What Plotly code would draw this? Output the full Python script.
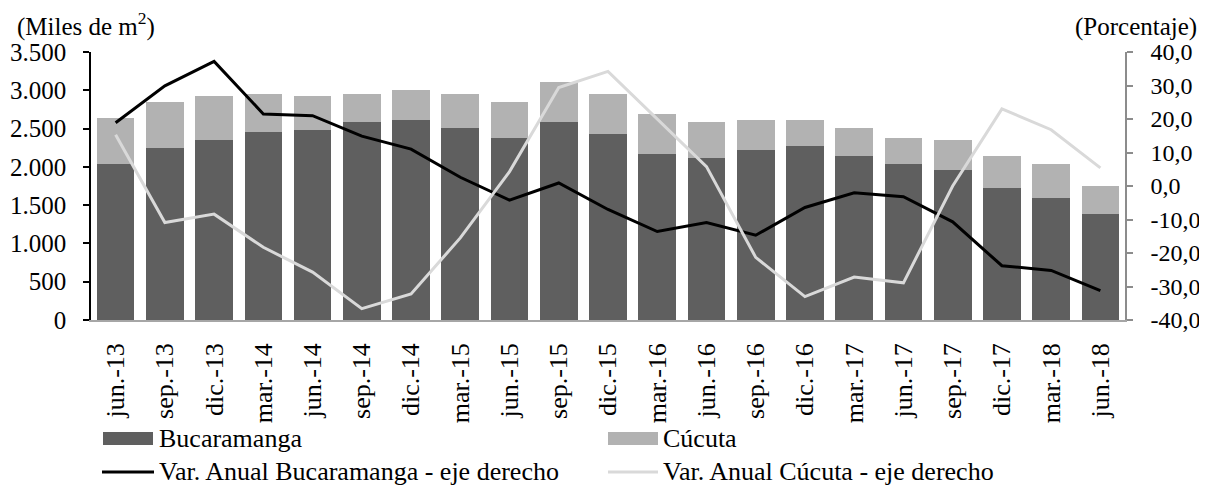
import plotly.graph_objects as go

categories = ["jun.-13", "sep.-13", "dic.-13", "mar.-14", "jun.-14", "sep.-14", "dic.-14",
              "mar.-15", "jun.-15", "sep.-15", "dic.-15", "mar.-16", "jun.-16", "sep.-16",
              "dic.-16", "mar.-17", "jun.-17", "sep.-17", "dic.-17", "mar.-18", "jun.-18"]

bucaramanga = [2040, 2250, 2355, 2460, 2486, 2590, 2616, 2510, 2381, 2588, 2431,
               2170, 2120, 2224, 2276, 2146, 2041, 1963, 1728, 1597, 1388]
cucuta = [598, 597, 570, 492, 439, 362, 388, 442, 466, 518, 521,
          520, 466, 388, 336, 361, 336, 388, 418, 444, 366]

var_bucaramanga = [18.9, 29.9, 37.2, 21.5, 21.0, 14.9, 11.0, 2.6, -4.2, 0.9, -7.0,
                   -13.6, -10.9, -14.7, -6.4, -2.0, -3.2, -10.7, -23.8, -25.2, -31.2]
var_cucuta = [15.3, -10.9, -8.4, -18.3, -25.7, -36.6, -32.2, -15.5, 4.3, 29.4, 34.2,
              20.0, 5.8, -21.3, -33.0, -27.2, -28.9, 0.0, 23.0, 16.8, 5.4]

left_tickvals = [0, 500, 1000, 1500, 2000, 2500, 3000, 3500]
left_ticktext = ["0", "500", "1.000", "1.500", "2.000", "2.500", "3.000", "3.500"]
right_tickvals = [-40, -30, -20, -10, 0, 10, 20, 30, 40]
right_ticktext = ["-40,0", "-30,0", "-20,0", "-10,0", "0,0", "10,0", "20,0", "30,0", "40,0"]

names = ["Bucaramanga", "Cúcuta", "Var. Anual Bucaramanga - eje derecho", "Var. Anual Cúcuta - eje derecho"]

C_BUC = "#5f5f5f"
C_CUC = "#b2b2b2"
C_LBUC = "#000000"
C_LCUC = "#d9d9d9"
FONT = "Liberation Serif"
FS_TICK = 25
FS_RTICK = 24
FS_X = 26
FS_TXT = 26
FS_HEAD = 25

W, H = 1207, 485
OFF = 8  # page body margin
L, R, T, B = 91, 1125, 52, 320  # plot area in page pixels


def px(x):
    return (x - L) / (R - L)


def py(y):
    return (B - y) / (B - T)


fig = go.Figure()
fig.add_trace(go.Bar(x=categories, y=bucaramanga, name=names[0], marker_color=C_BUC,
                     marker_line_width=0, showlegend=False))
fig.add_trace(go.Bar(x=categories, y=cucuta, name=names[1], marker_color=C_CUC,
                     marker_line_width=0, showlegend=False))
fig.add_trace(go.Scatter(x=categories, y=var_bucaramanga, name=names[2], mode="lines",
                         line=dict(color=C_LBUC, width=3), yaxis="y2", showlegend=False))
fig.add_trace(go.Scatter(x=categories, y=var_cucuta, name=names[3], mode="lines",
                         line=dict(color=C_LCUC, width=3), yaxis="y2", showlegend=False))

fig.update_layout(
    width=W, height=H,
    margin=dict(l=L - OFF, r=W - (R - OFF), t=T - OFF, b=H - (B - OFF), autoexpand=False),
    paper_bgcolor="white", plot_bgcolor="white",
    barmode="stack", bargap=0.235,
    font=dict(family=FONT, size=FS_TXT, color="black"),
    showlegend=False,
    xaxis=dict(type="category", tickangle=-90, showline=True, linecolor="#a6a6a6",
               linewidth=1.5, ticks="", showgrid=False, zeroline=False,
               ticklabelstandoff=11, tickfont=dict(family=FONT, size=FS_X)),
    yaxis=dict(range=[0, 3500], tickvals=left_tickvals, ticktext=left_ticktext,
               showline=True, linecolor="black", linewidth=1.5, ticks="outside",
               ticklen=6, tickcolor="black", tickwidth=1.5, showgrid=False, zeroline=False,
               ticklabelstandoff=12, tickfont=dict(family=FONT, size=FS_TICK)),
    yaxis2=dict(range=[-40, 40], tickvals=right_tickvals, ticktext=right_ticktext,
                overlaying="y", side="right", showline=True, linecolor="#8c8c8c",
                linewidth=1.5, ticks="outside", ticklen=6, tickcolor="#8c8c8c",
                tickwidth=1.5, showgrid=False, zeroline=False, ticklabelstandoff=13,
                tickfont=dict(family=FONT, size=FS_RTICK)),
)

ann = [
    dict(text="(Niveles y variación anual)", x=px(16), y=py(-7), xanchor="left", yanchor="middle", size=FS_HEAD),
    dict(text="(Miles de m<sup>2</sup>)", x=px(15), y=py(25), xanchor="left", yanchor="middle", size=FS_HEAD),
    dict(text="(Porcentaje)", x=px(1199), y=py(27), xanchor="right", yanchor="middle", size=FS_HEAD),
    dict(text=names[0], x=px(157), y=py(438), xanchor="left", yanchor="middle", size=FS_TXT),
    dict(text=names[1], x=px(661), y=py(438), xanchor="left", yanchor="middle", size=FS_TXT),
    dict(text=names[2], x=px(157), y=py(471), xanchor="left", yanchor="middle", size=FS_TXT),
    dict(text=names[3], x=px(661), y=py(471), xanchor="left", yanchor="middle", size=FS_TXT),
]
for a in ann:
    sz = a.pop("size")
    fig.add_annotation(xref="paper", yref="paper", showarrow=False,
                       font=dict(family=FONT, size=sz, color="black"), **a)

shapes = [
    dict(type="rect", x0=px(103), x1=px(153), y0=py(445), y1=py(432), fillcolor=C_BUC, line_width=0),
    dict(type="rect", x0=px(608), x1=px(658), y0=py(445), y1=py(432), fillcolor=C_CUC, line_width=0),
    dict(type="line", x0=px(102), x1=px(154), y0=py(472), y1=py(472), line=dict(color=C_LBUC, width=3)),
    dict(type="line", x0=px(608), x1=px(658), y0=py(472), y1=py(472), line=dict(color=C_LCUC, width=3)),
]
for s in shapes:
    fig.add_shape(xref="paper", yref="paper", **s)

fig.write_html("out.html")
